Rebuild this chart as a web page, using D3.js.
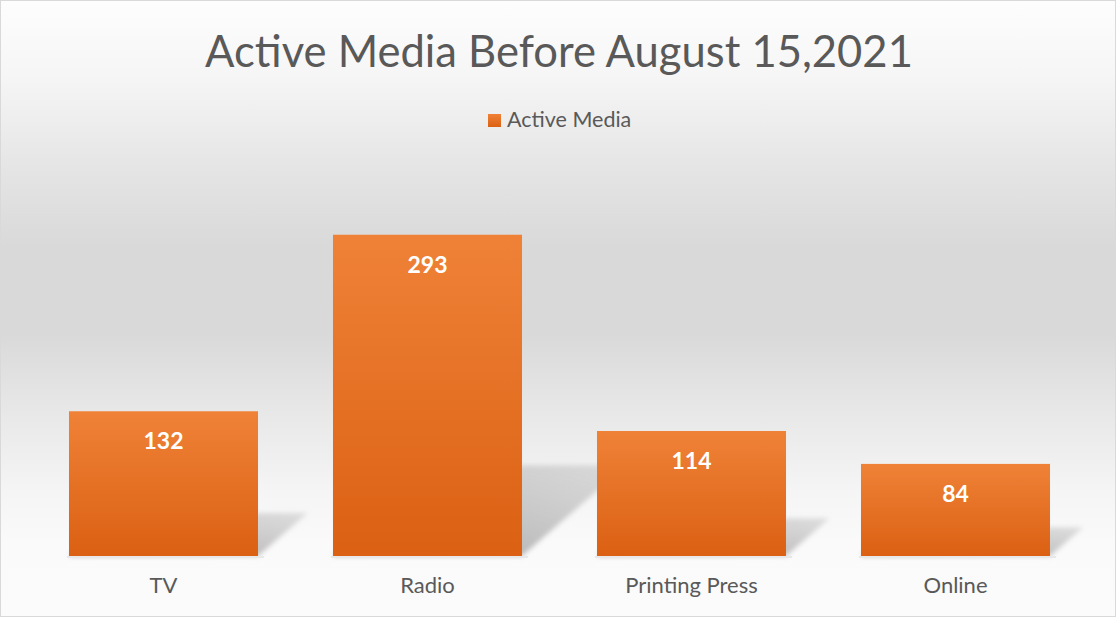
<!DOCTYPE html>
<html>
<head>
<meta charset="utf-8">
<script src="https://cdn.jsdelivr.net/npm/d3@7"></script>
<style>
  body { margin: 0; background: #fff; }
  svg { display: block; }
  text { font-family: Lato, "Open Sans", sans-serif; }
</style>
</head>
<body>
<script>
const categories = ["TV", "Radio", "Printing Press", "Online"];
const values = [132, 293, 114, 84];
const seriesName = "Active Media";
const titleText = "Active Media Before August 15,2021";

const width = 1116, height = 617;
const baseY = 556;

const svg = d3.select("body").append("svg")
    .attr("width", width)
    .attr("height", height);

const defs = svg.append("defs");

// background: white top, grey band in the middle, white bottom
const bg = defs.append("linearGradient")
    .attr("id", "bg").attr("x1", 0).attr("y1", 0).attr("x2", 0).attr("y2", 1);
[[0, "#fdfdfd"], [0.12, "#f6f6f6"], [0.28, "#e4e4e4"], [0.4, "#d9d9d9"], [0.54, "#d9d9d9"],
 [0.68, "#e9e9e9"], [0.8, "#f5f5f5"], [0.88, "#fafafa"], [1, "#fbfbfb"]]
    .forEach(s => bg.append("stop").attr("offset", s[0]).attr("stop-color", s[1]));

const barGrad = defs.append("linearGradient")
    .attr("id", "bar").attr("x1", 0).attr("y1", 0).attr("x2", 0).attr("y2", 1);
barGrad.append("stop").attr("offset", 0).attr("stop-color", "#ef8237");
barGrad.append("stop").attr("offset", 1).attr("stop-color", "#db6013");

const shGrad = defs.append("linearGradient")
    .attr("id", "sh").attr("x1", 0).attr("y1", 1).attr("x2", 1).attr("y2", 0);
shGrad.append("stop").attr("offset", 0).attr("stop-color", "#a0a0a0").attr("stop-opacity", 0.95);
shGrad.append("stop").attr("offset", 1).attr("stop-color", "#bdbdbd").attr("stop-opacity", 0.45);

defs.append("filter").attr("id", "blur")
    .attr("x", "-20%").attr("y", "-20%").attr("width", "140%").attr("height", "140%")
  .append("feGaussianBlur").attr("stdDeviation", 2.5);

svg.append("rect")
    .attr("x", 0.5).attr("y", 0.5)
    .attr("width", width - 1).attr("height", height - 1)
    .attr("fill", "url(#bg)")
    .attr("stroke", "#d9d9d9");

const x = d3.scaleBand()
    .domain(categories)
    .range([31.5, 1087.5])
    .paddingInner(0.284)
    .paddingOuter(0.142);

const y = d3.scaleLinear()
    .domain([0, 350])
    .range([baseY, baseY - 350 * 1.0965]);

const data = categories.map((c, i) => ({cat: c, value: values[i]}));

// floor shadows cast back to the right
svg.append("g")
    .attr("filter", "url(#blur)")
  .selectAll("path")
  .data(data)
  .join("path")
    .attr("fill", "url(#sh)")
    .attr("d", d => {
        const x0 = x(d.cat), x1 = x0 + x.bandwidth();
        const h = (baseY - y(d.value)) * 0.27 + 4;
        const dx = h * 1.15;
        return `M${x0},${baseY}L${x1},${baseY}L${x1 + dx},${baseY - h}L${x0 + dx},${baseY - h}Z`;
    });

// faint line under each bar
svg.append("g")
  .selectAll("rect")
  .data(data)
  .join("rect")
    .attr("x", d => x(d.cat) - 2)
    .attr("y", baseY)
    .attr("width", x.bandwidth() + 8)
    .attr("height", 2)
    .attr("fill", "#e8e8e8");

svg.append("g")
  .selectAll("rect")
  .data(data)
  .join("rect")
    .attr("x", d => x(d.cat))
    .attr("y", d => y(d.value))
    .attr("width", x.bandwidth())
    .attr("height", d => baseY - y(d.value))
    .attr("fill", "url(#bar)");

svg.append("g")
  .selectAll("text")
  .data(data)
  .join("text")
    .attr("x", d => x(d.cat) + x.bandwidth() / 2)
    .attr("y", d => y(d.value) + 38)
    .attr("text-anchor", "middle")
    .attr("fill", "#fff")
    .attr("font-weight", "bold")
    .attr("font-size", 23)
    .text(d => d.value);

svg.append("g")
  .selectAll("text")
  .data(categories)
  .join("text")
    .attr("x", d => x(d) + x.bandwidth() / 2)
    .attr("y", 593)
    .attr("text-anchor", "middle")
    .attr("fill", "#595959")
    .attr("font-size", 22)
    .text(d => d);

const title = svg.append("text")
    .attr("x", 559)
    .attr("y", 67)
    .attr("text-anchor", "middle")
    .attr("fill", "#595959")
    .attr("font-size", 40)
    .text(titleText);
// fit title width to the reference
const tw = title.node().getComputedTextLength();
title.attr("font-size", 40 * 708 / tw);

const legend = svg.append("g");
legend.append("rect")
    .attr("x", 488).attr("y", 114)
    .attr("width", 13).attr("height", 13)
    .attr("fill", "url(#bar)");
legend.append("text")
    .attr("x", 507).attr("y", 127)
    .attr("fill", "#595959")
    .attr("font-size", 21.5)
    .text(seriesName);
</script>
</body>
</html>
